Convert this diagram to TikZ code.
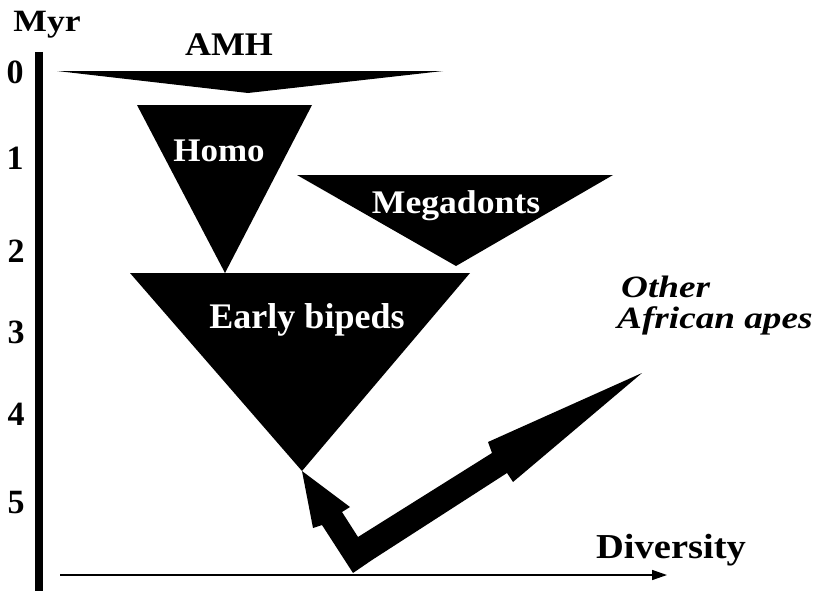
\documentclass[tikz,border=0pt]{standalone}
\usepackage{fontspec}
\setmainfont{Liberation Serif}
\usetikzlibrary{arrows.meta}
\begin{document}
\begin{tikzpicture}[x=1pt,y=-1pt,
  lab/.style={font=\fontsize{32}{32}\selectfont\bfseries, inner sep=0pt, anchor=base},
  wlab/.style={lab, text=white},
  num/.style={font=\fontsize{34}{34}\selectfont\bfseries, inner sep=0pt, anchor=base},
  ital/.style={font=\fontsize{31}{31}\selectfont\bfseries\itshape, inner sep=0pt, anchor=base west, xscale=1.2},
  tri/.style={fill=black, draw=none}]
\useasboundingbox (0,0) rectangle (816,594);

% vertical time axis
\coordinate (vtop) at (39,52);
\coordinate (vbot) at (39,591);
\draw[line width=8pt] (vtop) -- (vbot);
\node[lab, xscale=1.15, font=\fontsize{31}{31}\selectfont\bfseries] (myr) at (47,32) {Myr};
\node[num] (n0) at (15,84) {0};
\node[num] (n1) at (15,169) {1};
\node[num] (n2) at (16,262) {2};
\node[num] (n3) at (16,343) {3};
\node[num] (n4) at (16,425) {4};
\node[num] (n5) at (16,513) {5};

% horizontal diversity axis
\coordinate (hstart) at (60,575);
\coordinate (hend) at (667,575);
\draw[line width=1.5pt, -{Triangle[length=15pt,width=10pt]}] (hstart) -- (hend);
\node[lab, xscale=1.1, font=\fontsize{35}{35}\selectfont\bfseries] (div) at (671,558) {Diversity};

% clades
\fill[tri] (57,71) -- (443,71) -- (248,93) -- cycle;
\node[lab, xscale=1.09, font=\fontsize{33}{33}\selectfont\bfseries] (amh) at (229,56) {AMH};

\fill[tri] (137,105) -- (312,105) -- (225,273) -- cycle;
\node[wlab, xscale=1.06, font=\fontsize{33}{33}\selectfont\bfseries] (homo) at (219,161) {Homo};

\fill[tri] (297,175) -- (613,175) -- (456,266) -- cycle;
\node[wlab, xscale=1.08, font=\fontsize{33}{33}\selectfont\bfseries] (mega) at (456,213) {Megadonts};

\fill[tri] (130,273) -- (470,273) -- (302,471) -- cycle;
\node[wlab, font=\fontsize{36}{36}\selectfont\bfseries] (early) at (307,328) {Early bipeds};

% other African apes
\node[ital] (other) at (621,297) {Other};
\node[ital] (afr) at (617,328) {African apes};

% thick branching arrows
\coordinate (root) at (353,573);
\coordinate (ltip) at (302,471);
\coordinate (rtip) at (642,373);
\fill (root) -- (322,525) -- (313,528) -- (ltip) -- (350,507) -- (342,512)
  -- (358,537) -- (492,453) -- (488,442) -- (rtip) -- (513,482) -- (507,473)
  -- (372,560) -- cycle;
\end{tikzpicture}
\end{document}
